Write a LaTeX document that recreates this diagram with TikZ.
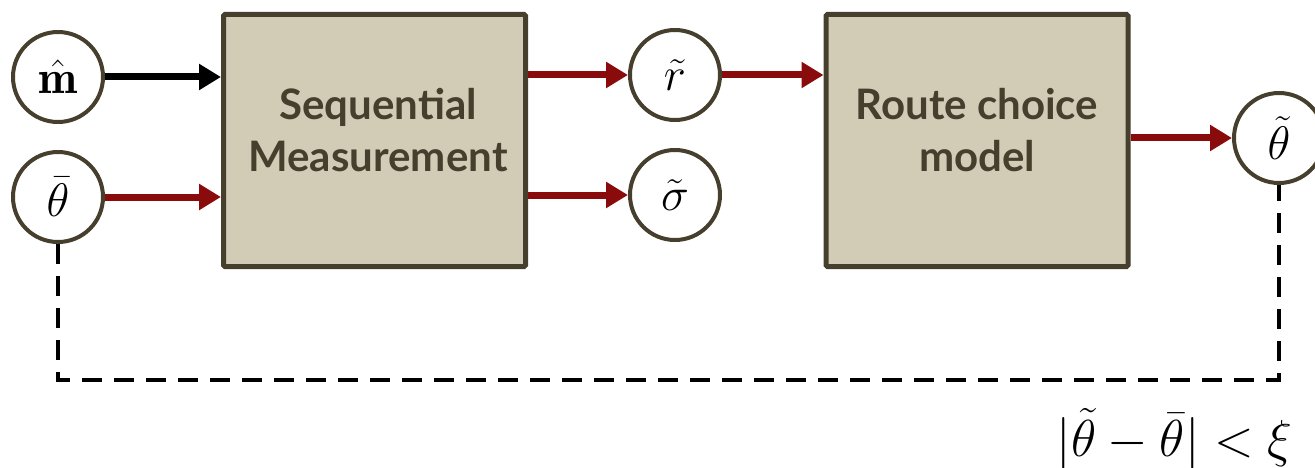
\RequirePackage{fix-cm}
\documentclass[tikz,border=0pt]{standalone}
\usepackage{amsmath}
\usepackage{fontspec}
\setsansfont{Lato}
\usetikzlibrary{arrows.meta}
\definecolor{boxfill}{HTML}{D2CBB5}
\definecolor{boxline}{HTML}{473F2D}
\definecolor{flowred}{HTML}{8A0B0B}
\tikzset{
  block/.style={draw=boxline, line width=5pt, fill=boxfill, rounded corners=1.5pt,
    minimum width=302pt, minimum height=252pt, inner sep=0pt},
  blocktext/.style={font=\sffamily\bfseries\fontsize{42}{52}\selectfont, text=boxline,
    align=center},
  var/.style={circle, draw=boxline, line width=4pt, fill=white,
    minimum size=90pt, inner sep=0pt, font=\fontsize{47}{54}\selectfont},
  flow/.style={line width=7pt, -{Triangle[length=22pt,width=25pt]}},
  feedback/.style={line width=3.5pt, dash pattern=on 20pt off 12pt}
}
\begin{document}
\begin{tikzpicture}[x=1pt,y=-1pt]
  \useasboundingbox (0,0) rectangle (1315,468);
  % processing blocks
  \node[block] (meas) at (374.5,140.5) {};
  \node[blocktext] at (378,130) {Sequential\\Measurement};
  \node[block] (route) at (977,140.5) {};
  \node[blocktext] at (977,130) {Route choice\\model};
  % variables
  \node[var] (m) at (58,77) {$\hat{\mathbf{m}}$};
  \node[var] (tbar) at (58,197) {$\bar{\theta}$};
  \node[var] (r) at (675,75) {$\tilde{r}$};
  \node[var] (s) at (675,195) {$\tilde{\sigma}$};
  \node[var] (ttil) at (1279,138) {$\tilde{\theta}$};
  % signal flow
  \draw[flow, black] (m.east) -- (m.east -| meas.west);
  \draw[flow, flowred] (tbar.east) -- (tbar.east -| meas.west);
  \draw[flow, flowred] (r.west -| meas.east) -- (r.west);
  \draw[flow, flowred] (s.west -| meas.east) -- (s.west);
  \draw[flow, flowred] (r.east) -- (r.east -| route.west);
  \draw[flow, flowred] (ttil.west -| route.east) -- (ttil.west);
  % convergence loop
  \coordinate (lowleft) at (58,380);
  \draw[feedback] (tbar.south) -- (lowleft) -| (ttil.south);
  \node[anchor=base east, inner sep=0pt, font=\fontsize{52}{60}\selectfont] (crit) at (1293,456)
    {$|\tilde{\theta}-\bar{\theta}|<\xi$};
\end{tikzpicture}
\end{document}
